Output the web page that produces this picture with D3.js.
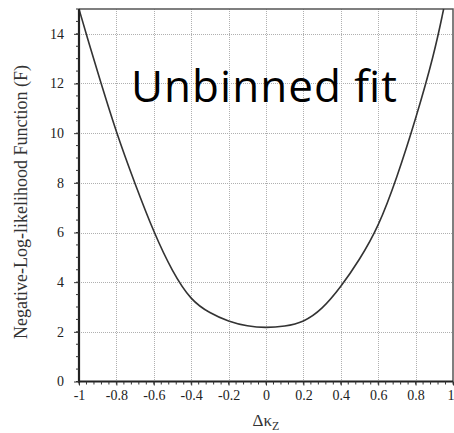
<!DOCTYPE html>
<html>
<head>
<meta charset="utf-8">
<script src="https://cdn.jsdelivr.net/npm/d3@7"></script>
<style>
  html, body { margin: 0; padding: 0; background: #fff; }
  svg { display: block; }
</style>
</head>
<body>
<svg id="chart" width="454" height="433"></svg>
<script>
// Negative log-likelihood scan in Δκ_Z
const kappaZ = [-1.0, -0.95, -0.9, -0.8, -0.7, -0.6, -0.5, -0.4, -0.3, -0.2, -0.1, 0.0,
                0.1, 0.2, 0.3, 0.4, 0.5, 0.6, 0.7, 0.8, 0.9, 0.95];
const nll = [15.0, 13.7, 12.45, 10.0, 7.95, 6.0, 4.4, 3.25, 2.75, 2.41, 2.22, 2.16,
             2.22, 2.38, 2.9, 3.8, 4.9, 6.2, 8.2, 10.55, 13.2, 15.0];

const xTicks = [-1, -0.8, -0.6, -0.4, -0.2, 0, 0.2, 0.4, 0.6, 0.8, 1];
const yTicks = [0, 2, 4, 6, 8, 10, 12, 14];
const xTickLabels = ["-1", "-0.8", "-0.6", "-0.4", "-0.2", "0", "0.2", "0.4", "0.6", "0.8", "1"];
const yTickLabels = ["0", "2", "4", "6", "8", "10", "12", "14"];

const yTitle = "Negative-Log-likelihood Function (F)";
const annotation = "Unbinned fit";

const svg = d3.select("#chart");
const m = { left: 79, right: 453, top: 9, bottom: 381.5 };

const x = d3.scaleLinear().domain([-1, 1]).range([m.left, m.right]);
const y = d3.scaleLinear().domain([0, 15]).range([m.bottom, m.top]);

const serif = "'Liberation Serif', 'Times New Roman', serif";

// dotted grid
const grid = svg.append("g").attr("stroke", "#b0b0b0").attr("stroke-width", 1)
  .attr("stroke-dasharray", "1,1");
grid.selectAll("line.gx").data(xTicks.slice(1, -1)).join("line")
  .attr("x1", d => Math.round(x(d)) + 0.5).attr("x2", d => Math.round(x(d)) + 0.5)
  .attr("y1", m.top).attr("y2", m.bottom);
grid.selectAll("line.gy").data(yTicks.slice(1)).join("line")
  .attr("y1", d => Math.round(y(d)) + 0.5).attr("y2", d => Math.round(y(d)) + 0.5)
  .attr("x1", m.left).attr("x2", m.right);

// frame: top and right
svg.append("path")
  .attr("d", `M${m.left},${m.top}H${m.right}V${m.bottom}`)
  .attr("fill", "none").attr("stroke", "#555").attr("stroke-width", 1.5);

// likelihood curve
const pts = kappaZ.map((k, i) => [k, nll[i]]);
svg.append("path")
  .datum(pts)
  .attr("fill", "none")
  .attr("stroke", "#333")
  .attr("stroke-width", 1.6)
  .attr("d", d3.line().x(d => x(d[0])).y(d => y(d[1])).curve(d3.curveBasis));

// axes
const xAxis = d3.axisBottom(x).tickValues(xTicks).tickFormat((d, i) => xTickLabels[i])
  .tickSize(4).tickPadding(5);
const gx = svg.append("g").attr("transform", `translate(0,${m.bottom})`).call(xAxis);
const xMinor = d3.range(-1, 1.0001, 0.04).map(v => +v.toFixed(2));
gx.selectAll("line.minor").data(xMinor).join("line").attr("class", "minor")
  .attr("x1", d => x(d)).attr("x2", d => x(d)).attr("y1", 0).attr("y2", 3)
  .attr("stroke", "#333");

const yAxis = d3.axisLeft(y).tickValues(yTicks).tickFormat((d, i) => yTickLabels[i])
  .tickSize(5).tickPadding(10);
const gy = svg.append("g").attr("transform", `translate(${m.left},0)`).call(yAxis);
const yMinor = d3.range(0, 15.001, 0.5);
gy.selectAll("line.minor").data(yMinor).join("line").attr("class", "minor")
  .attr("y1", d => y(d)).attr("y2", d => y(d)).attr("x1", 0).attr("x2", -3)
  .attr("stroke", "#333");

[gx, gy].forEach(g => {
  g.select(".domain").attr("stroke", "#222").attr("stroke-width", 2.2);
  g.selectAll(".tick line").attr("stroke", "#333");
  g.selectAll(".tick text").attr("font-family", serif).attr("font-size", 14).attr("fill", "#222");
});
gx.select(".domain").attr("d", `M${m.left - 1},0H${m.right}`);
gy.select(".domain").attr("d", `M0,${m.top}V${m.bottom + 1}`);
// keep the last x label inside the page edge
gx.selectAll(".tick text").filter(d => d === 1).attr("text-anchor", "end").attr("dx", 1);

// axis titles
svg.append("text")
  .attr("transform", `translate(27,202) rotate(-90)`)
  .attr("text-anchor", "middle")
  .attr("font-family", serif).attr("font-size", 18).attr("fill", "#333")
  .text(yTitle);

const xt = svg.append("text")
  .attr("x", x(0)).attr("y", 426)
  .attr("text-anchor", "middle")
  .attr("font-family", serif).attr("font-size", 17).attr("fill", "#333");
xt.append("tspan").text("Δκ");
xt.append("tspan").attr("font-size", 12).attr("dy", 4).text("Z");

// annotation
svg.append("text")
  .attr("x", 131).attr("y", 102)
  .attr("font-family", "'Open Sans', 'Noto Sans', sans-serif")
  .attr("font-size", 44).attr("fill", "#000")
  .attr("textLength", 266).attr("lengthAdjust", "spacing")
  .text(annotation);
</script>
</body>
</html>
